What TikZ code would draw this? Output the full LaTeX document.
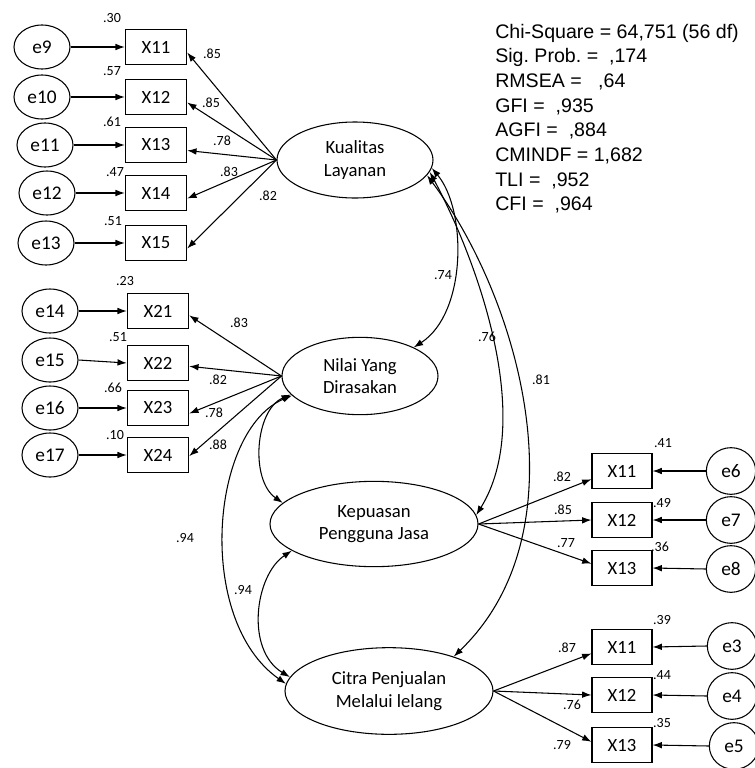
\documentclass[tikz,border=0pt]{standalone}
\usepackage{fontspec}
\setmainfont{Carlito}
\newfontfamily\statfont{Liberation Sans}
\usetikzlibrary{shapes.geometric,arrows.meta}
\frenchspacing
\begin{document}
\begin{tikzpicture}[x=0.75pt,y=-0.75pt,
 every node/.style={inner sep=0pt},
 obs/.style={draw, rectangle, line width=0.8pt, minimum width=46pt, minimum height=26.5pt, font=\fontsize{14}{16}\selectfont},
 err/.style={draw, ellipse, line width=0.8pt, minimum width=42pt, minimum height=33pt, font=\fontsize{14.5}{16}\selectfont},
 errr/.style={err, minimum width=37pt, minimum height=35pt},
 lat/.style={draw, ellipse, line width=0.8pt, align=center, font=\fontsize{14}{17}\selectfont},
 lbl/.style={font=\fontsize{10.5}{12}\selectfont},
 stat/.style={anchor=base west, font=\statfont\fontsize{14.7}{18}\selectfont},
 arr/.style={-{Latex[length=7pt,width=5pt]}, line width=0.8pt},
 cov/.style={{Latex[length=7pt,width=5pt]}-{Latex[length=7pt,width=5pt]}, line width=0.8pt},
]
\useasboundingbox (0,0) rectangle (755,768);

% ---------- latent variables ----------
\node[lat, minimum width=117pt, minimum height=57pt] (kual) at (355,160) {Kualitas\\Layanan};
\node[lat, minimum width=117pt, minimum height=58pt] (nilai) at (360,376) {Nilai Yang\\Dirasakan};
\node[lat, minimum width=156pt, minimum height=64pt] (kepu) at (374,524) {Kepuasan\\Pengguna Jasa};
\node[lat, minimum width=156pt, minimum height=65pt] (citra) at (389,691) {Citra Penjualan\\Melalui lelang};

% ---------- block 1 ----------
\node[obs] (x11) at (156,47) {X11};
\node[obs] (x12) at (156,97) {X12};
\node[obs] (x13) at (156,145) {X13};
\node[obs] (x14) at (156,193) {X14};
\node[obs] (x15) at (156,243) {X15};
\node[err] (e9) at (42,47) {e9};
\node[err] (e10) at (42,97) {e10};
\node[err] (e11) at (45,145) {e11};
\node[err] (e12) at (47,193) {e12};
\node[err] (e13) at (46,243) {e13};
\foreach \e/\x in {e9/x11,e10/x12,e11/x13,e12/x14,e13/x15}
  \draw[arr] (\e.east) -- (\x.west);
\foreach \x in {x11,x12,x13,x14,x15}
  \draw[arr] (kual.west) -- (\x.-10);
\node[lbl] (v11) at (112,18) {.30};
\node[lbl] (v12) at (112,71) {.57};
\node[lbl] (v13) at (112,122) {.61};
\node[lbl] (v14) at (115,172) {.47};
\node[lbl] (v15) at (113,221) {.51};
\node[lbl] (l11) at (212,54) {.85};
\node[lbl] (l12) at (211,103) {.85};
\node[lbl] (l13) at (222,141) {.78};
\node[lbl] (l14) at (229,172) {.83};
\node[lbl] (l15) at (268,196) {.82};

% ---------- block 2 ----------
\node[obs] (x21) at (158,311) {X21};
\node[obs] (x22) at (158,363) {X22};
\node[obs] (x23) at (158,408) {X23};
\node[obs] (x24) at (158,455) {X24};
\node[err] (e14) at (50,311) {e14};
\node[err] (e15) at (50,360) {e15};
\node[err] (e16) at (50,408) {e16};
\node[err] (e17) at (50,455) {e17};
\foreach \e/\x in {e14/x21,e15/x22,e16/x23,e17/x24}
  \draw[arr] (\e.east) -- (\x.west);
\draw[arr] (nilai.west) -- (x21.-8);
\draw[arr] (nilai.west) -- (x22.-6);
\draw[arr] (nilai.west) -- (x23.-10);
\draw[arr] (nilai.west) -- (x24.-2);
\node[lbl] (v21) at (125,281) {.23};
\node[lbl] (v22) at (118,337) {.51};
\node[lbl] (v23) at (113,388) {.66};
\node[lbl] (v24) at (115,435) {.10};
\node[lbl] (l21) at (239,323) {.83};
\node[lbl] (l22) at (218,380) {.82};
\node[lbl] (l23) at (214,413) {.78};
\node[lbl] (l24) at (218,445) {.88};

% ---------- Kepuasan indicators ----------
\node[obs, minimum width=45pt] (r1) at (622,471) {X11};
\node[obs, minimum width=45pt] (r2) at (622,520) {X12};
\node[obs, minimum width=45pt] (r3) at (622,568) {X13};
\node[errr] (e6) at (731,471) {e6};
\node[errr] (e7) at (731,520) {e7};
\node[errr] (e8) at (731,569) {e8};
\foreach \e/\x in {e6/r1,e7/r2,e8/r3}
  \draw[arr] (\e.west) -- (\x.east);
\draw[arr] (kepu.east) -- (r1.195);
\draw[arr] (kepu.east) -- (r2.west);
\draw[arr] (kepu.east) -- (r3.172);
\node[lbl] (vr1) at (663,443) {.41};
\node[lbl] (vr2) at (662,503) {.49};
\node[lbl] (vr3) at (660,547) {.36};
\node[lbl] (lr1) at (562,477) {.82};
\node[lbl] (lr2) at (563,510) {.85};
\node[lbl] (lr3) at (566,543) {.77};

% ---------- Citra indicators ----------
\node[obs, minimum width=45pt] (c1) at (622,647) {X11};
\node[obs, minimum width=45pt] (c2) at (622,695) {X12};
\node[obs, minimum width=45pt] (c3) at (622,745) {X13};
\node[errr] (e3) at (732,646) {e3};
\node[errr] (e4) at (732,696) {e4};
\node[errr] (e5) at (734,746) {e5};
\foreach \e/\x in {e3/c1,e4/c2,e5/c3}
  \draw[arr] (\e.west) -- (\x.east);
\draw[arr] (citra.east) -- (c1.192);
\draw[arr] (citra.east) -- (c2.west);
\draw[arr] (citra.east) -- (c3.174);
\node[lbl] (vc1) at (662,620) {.39};
\node[lbl] (vc2) at (662,675) {.44};
\node[lbl] (vc3) at (662,723) {.35};
\node[lbl] (lc1) at (567,648) {.87};
\node[lbl] (lc2) at (572,705) {.76};
\node[lbl] (lc3) at (562,745) {.79};

% ---------- covariances ----------
\draw[cov] (kual.-6) .. controls (467,210) and (467,313) .. (nilai.28);
\draw[cov] (kual.-9) .. controls (478,262) and (535,420) .. (kepu.5);
\draw[cov] (kual.-12) .. controls (520,300) and (585,530) .. (citra.28);
\draw[cov] (nilai.195) .. controls (255,410) and (250,480) .. (kepu.167);
\draw[cov] (nilai.196) .. controls (210,430) and (195,620) .. (citra.176);
\draw[cov] (kepu.198) .. controls (255,575) and (245,650) .. (citra.172);
\node[lbl] (k1) at (443,275) {.74};
\node[lbl] (k2) at (487,337) {.76};
\node[lbl] (k3) at (541,380) {.81};
\node[lbl] (k4) at (185,538) {.94};
\node[lbl] (k5) at (243,590) {.94};

% ---------- fit statistics ----------
\node[stat] (s1) at (495,38) {Chi-Square = 64,751 (56 df)};
\node[stat] (s2) at (495,62.7) {Sig. Prob. =\ \ ,174};
\node[stat] (s3) at (495,87.4) {RMSEA =\ \ \ ,64};
\node[stat] (s4) at (495,112.1) {GFI =\ \ ,935};
\node[stat] (s5) at (495,136.8) {AGFI =\ \ ,884};
\node[stat] (s6) at (495,161.5) {CMINDF = 1,682};
\node[stat] (s7) at (495,186.2) {TLI =\ \ ,952};
\node[stat] (s8) at (495,210.9) {CFI =\ \ ,964};
\end{tikzpicture}
\end{document}
